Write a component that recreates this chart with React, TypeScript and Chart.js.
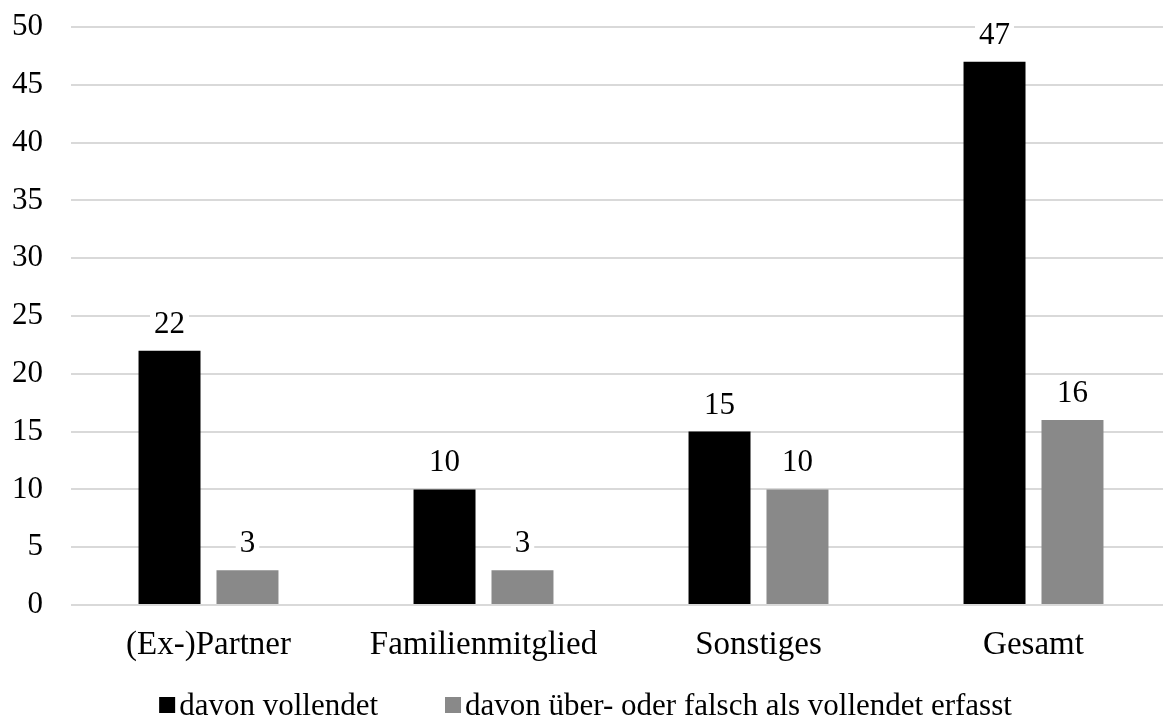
import React, { useEffect, useRef } from 'react';
import { Chart, registerables } from 'chart.js';

Chart.register(...registerables);

const categories = ['(Ex-)Partner', 'Familienmitglied', 'Sonstiges', 'Gesamt'];
const vollendet = [22, 10, 15, 47];
const falschErfasst = [3, 3, 10, 16];
const seriesNames = ['davon vollendet', 'davon über- oder falsch als vollendet erfasst'];
const seriesColors = ['#000000', '#898989'];
const yMin = 0;
const yMax = 50;
const yStep = 5;

const FAMILY = "'Liberation Serif', 'Times New Roman', serif";
const SIZE = 31;
const X_SIZE = 33;

const valueLabels = {
  id: 'valueLabels',
  afterDatasetsDraw(chart: any) {
    const ctx = chart.ctx;
    ctx.save();
    ctx.font = `${SIZE}px ${FAMILY}`;
    ctx.textAlign = 'center';
    ctx.textBaseline = 'alphabetic';
    chart.data.datasets.forEach((ds: any, di: number) => {
      const meta = chart.getDatasetMeta(di);
      meta.data.forEach((el: any, i: number) => {
        const text = String(ds.data[i]);
        const w = ctx.measureText(text).width;
        const y = el.y - 18;
        ctx.fillStyle = '#ffffff';
        ctx.fillRect(el.x - w / 2 - 4, y - 25, w + 8, 29);
        ctx.fillStyle = '#000000';
        ctx.fillText(text, el.x, y);
      });
    });
    ctx.restore();
  },
};

// Legend drawn under the axis: square marker, small gap, label text.
const bottomLegend = {
  id: 'bottomLegend',
  afterDraw(chart: any) {
    const ctx = chart.ctx;
    const box = 16;
    const gap = 4;
    const itemGap = 67;
    const baseline = 715;
    ctx.save();
    ctx.font = `${SIZE}px ${FAMILY}`;
    ctx.textBaseline = 'alphabetic';
    ctx.textAlign = 'left';
    const items = chart.data.datasets.map((ds: any) => ({
      text: ds.label,
      color: ds.backgroundColor,
      w: ctx.measureText(ds.label).width,
    }));
    const total = items.reduce((s: number, it: any) => s + box + gap + it.w, 0) + itemGap * (items.length - 1);
    let x = chart.width / 2 - total / 2;
    items.forEach((it: any) => {
      ctx.fillStyle = it.color;
      ctx.fillRect(x, baseline - 18, box, box);
      x += box + gap;
      ctx.fillStyle = '#000000';
      ctx.fillText(it.text, x, baseline);
      x += it.w + itemGap;
    });
    ctx.restore();
  },
};

export default function App() {
  const canvasRef = useRef<HTMLCanvasElement | null>(null);

  useEffect(() => {
    if (!canvasRef.current) return;
    const font = { family: FAMILY, size: SIZE };
    const chart = new Chart(canvasRef.current, {
      type: 'bar',
      data: {
        labels: categories,
        datasets: [
          { label: seriesNames[0], data: vollendet, backgroundColor: seriesColors[0], borderWidth: 0 },
          { label: seriesNames[1], data: falschErfasst, backgroundColor: seriesColors[1], borderWidth: 0 },
        ],
      },
      options: {
        animation: false,
        responsive: true,
        maintainAspectRatio: false,
        layout: { padding: { left: 0, top: 27, right: 0, bottom: 31 } },
        datasets: { bar: { categoryPercentage: 0.567, barPercentage: 0.795 } },
        plugins: {
          legend: { display: false },
          tooltip: { enabled: false },
        },
        scales: {
          x: {
            grid: { display: false, drawTicks: false },
            border: { display: false },
            ticks: { font: { family: FAMILY, size: X_SIZE }, color: '#000000', padding: 21, maxRotation: 0, autoSkip: false },
            afterFit: (scale: any) => {
              scale.height = 82;
            },
          },
          y: {
            min: yMin,
            max: yMax,
            ticks: { stepSize: yStep, font, color: '#000000', padding: 28 },
            grid: { color: '#d9d9d9', lineWidth: 2, drawTicks: false },
            border: { display: false },
            afterFit: (scale: any) => {
              scale.width = 71;
              scale.paddingTop = 0;
              scale.paddingBottom = 0;
            },
          },
        },
      },
      plugins: [valueLabels, bottomLegend],
    });
    return () => chart.destroy();
  }, []);

  return (
    <div style={{ position: 'fixed', left: 0, top: 0, width: 1163, height: 718, overflow: 'hidden', background: '#ffffff' }}>
      <div style={{ position: 'relative', width: 1171, height: 718 }}>
        <canvas ref={canvasRef} />
      </div>
    </div>
  );
}
